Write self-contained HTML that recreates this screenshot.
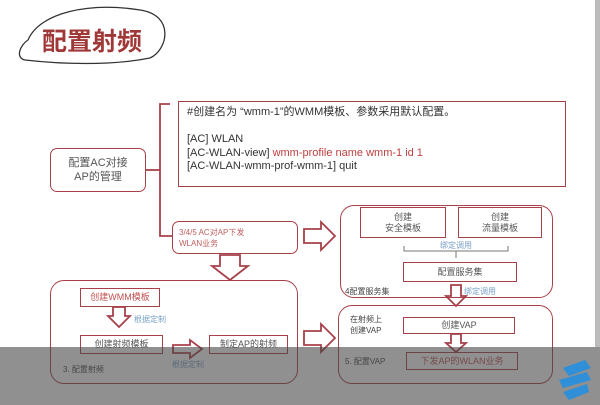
<!DOCTYPE html>
<html><head><meta charset="utf-8"><style>
body{margin:0;width:600px;height:405px;overflow:hidden;background:#fff;font-family:"Liberation Sans","Noto Sans CJK SC",sans-serif;}
.a{position:absolute;white-space:nowrap}
.b{position:absolute;border:1.5px solid #a8404a;box-sizing:border-box;display:flex;align-items:center;justify-content:center;text-align:center;color:#555;font-size:9px;line-height:11px}
.bl{color:#7aa0c8;font-size:8px}
</style></head><body>
<svg class="a" style="left:0;top:0" width="600" height="405">
<path d="M28,40 C40,12 90,2 140,10 C175,15 168,50 150,58 C110,66 60,64 25,60 C15,58 20,45 28,40" fill="none" stroke="#333" stroke-width="1.3"/>
<g fill="none" stroke="#a8404a" stroke-width="1.8">
<path d="M170,104 H160 V236 H172"/><path d="M145,170 H160"/>
<path d="M304,229 H321 V222 L335,236 L321,250 V243 H304 Z"/>
<path d="M304,331 H321 V324 L335,338 L321,352 V345 H304 Z"/>
<path d="M220,255 V266 H212 L230,280 L248,266 H240 V255 Z"/>
<path d="M113,307 V316 H108 L119,327 L130,316 H125 V307 Z"/>
<path d="M173,345 H190 V340 L202,349 L190,358 V353 H173 Z"/>
<path d="M451,285 V296 H446 L456,306 L466,296 H461 V285 Z"/>
<path d="M451,334 V343 H446 L456,352 L466,343 H461 V334 Z"/>
</g>
<path d="M404,246 V251 H508 V246 M456,251 V258" fill="none" stroke="#777" stroke-width="1"/>
</svg>
<div class="a" style="left:42px;top:22px;font-size:25px;color:#a03838;letter-spacing:0px;font-weight:bold">配置射频</div>
<div class="b" style="left:50px;top:148px;width:96px;height:44px;border-radius:7px;font-size:11px;line-height:14px">配置AC对接<br>AP的管理</div>
<div class="b" style="left:178px;top:101px;width:388px;height:86px;display:block;text-align:left;padding:4px 8px;font-size:11px;line-height:13.5px;color:#333">#创建名为 “wmm-1”的WMM模板、参数采用默认配置。<br><br>[AC] WLAN<br>[AC-WLAN-view] <span style="color:#c04040">wmm-profile name wmm-1 id 1</span><br>[AC-WLAN-wmm-prof-wmm-1] quit</div>
<div class="b" style="left:172px;top:221px;width:126px;height:33px;border-radius:7px;display:block;text-align:left;padding:5px 6px;color:#c06060;font-size:8px">3/4/5 AC对AP下发<br>WLAN业务</div>
<div class="b" style="left:50px;top:280px;width:248px;height:104px;border-radius:14px;display:block"></div>
<div class="b" style="left:80px;top:288px;width:80px;height:19px;color:#c05050">创建WMM模板</div>
<div class="a bl" style="left:134px;top:314px">根据定制</div>
<div class="b" style="left:80px;top:335px;width:83px;height:19px">创建射频模板</div>
<div class="b" style="left:209px;top:335px;width:79px;height:19px">制定AP的射频</div>
<div class="a bl" style="left:172px;top:359px">根据定制</div>
<div class="a" style="left:63px;top:364px;font-size:8px;color:#444">3. 配置射频</div>
<div class="b" style="left:340px;top:205px;width:213px;height:93px;border-radius:14px;display:block"></div>
<div class="b" style="left:360px;top:207px;width:86px;height:31px">创建<br>安全模板</div>
<div class="b" style="left:458px;top:207px;width:84px;height:31px">创建<br>流量模板</div>
<div class="a bl" style="left:440px;top:240px">绑定调用</div>
<div class="b" style="left:403px;top:262px;width:114px;height:20px">配置服务集</div>
<div class="a" style="left:345px;top:286px;font-size:8px;color:#444">4配置服务集</div>
<div class="a bl" style="left:464px;top:286px">绑定调用</div>
<div class="b" style="left:338px;top:305px;width:215px;height:79px;border-radius:14px;display:block"></div>
<div class="a" style="left:350px;top:314px;font-size:8px;line-height:11px;color:#444">在射频上<br>创建VAP</div>
<div class="b" style="left:403px;top:317px;width:112px;height:17px">创建VAP</div>
<div class="b" style="left:406px;top:352px;width:112px;height:18px;color:#c05050">下发AP的WLAN业务</div>
<div class="a" style="left:345px;top:356px;font-size:8px;color:#444">5. 配置VAP</div>
<div class="a" style="left:0;top:347px;width:600px;height:58px;background:rgba(70,70,70,0.6)"></div>
<div class="a" style="left:595px;top:0;width:5px;height:347px;background:#bbb"></div>
<svg class="a" style="left:555px;top:358px" width="40" height="44"><path d="M8,10 L30,2 L36,10 L14,18Z M4,22 L32,14 L36,22 L8,30Z M8,34 L32,26 L34,34 L14,42Z" fill="#2f8fd8"/></svg>
</body></html>
